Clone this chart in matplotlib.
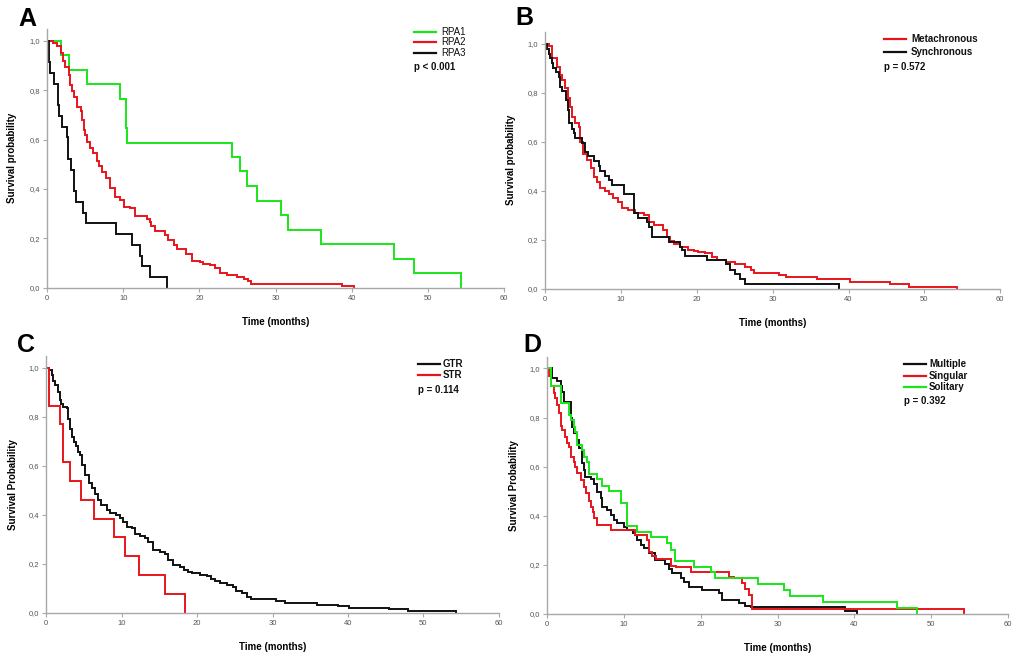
import matplotlib
matplotlib.use("Agg")
import matplotlib.pyplot as plt
from matplotlib.lines import Line2D

plt.rcParams['font.family'] = ['Liberation Sans', 'DejaVu Sans']

# ---------------- DATA ----------------
x_ticks = [0, 10, 20, 30, 40, 50, 60]
y_ticks = [0.0, 0.2, 0.4, 0.6, 0.8, 1.0]
y_tick_labels = ["0,0", "0,2", "0,4", "0,6", "0,8", "1,0"]

# Panel A: RPA classes (time of drop, survival after drop)
rpa1_t = [1.8, 2.9, 5.3, 9.6, 10.3, 10.5, 24.3, 25.3, 26.3, 27.5, 30.7, 31.6, 35.9, 45.5, 48.1, 54.3]
rpa1_s = [0.941, 0.882, 0.824, 0.765, 0.647, 0.588, 0.529, 0.471, 0.412, 0.353, 0.294, 0.235, 0.176, 0.118, 0.059, 0.0]

rpa2_t = [0.8, 1.3, 1.8, 2.1, 2.4, 2.9, 3.0, 3.3, 3.5, 3.9, 4.4, 4.6, 4.8, 5.0, 5.3, 5.7, 6.1, 6.5, 6.8, 7.2,
          7.8, 8.3, 8.9, 9.6, 10.1, 10.9, 11.6, 13.1, 13.5, 13.7, 14.2, 15.5, 15.9, 16.6, 17.0, 18.3, 19.0,
          20.1, 20.5, 21.4, 22.0, 22.7, 23.6, 24.9, 25.8, 26.4, 26.8, 38.7, 40.3]
rpa2_s = [0.99, 0.98, 0.95, 0.92, 0.895, 0.86, 0.82, 0.795, 0.773, 0.73, 0.715, 0.68, 0.638, 0.62, 0.59, 0.565, 0.544, 0.515, 0.495, 0.47,
          0.443, 0.402, 0.368, 0.355, 0.328, 0.322, 0.29, 0.28, 0.265, 0.25, 0.229, 0.215, 0.193, 0.173, 0.155, 0.135, 0.108,
          0.103, 0.097, 0.09, 0.078, 0.058, 0.05, 0.045, 0.035, 0.027, 0.0135, 0.006, 0.0]

rpa3_t = [0.2, 0.3, 0.4, 0.9, 1.4, 1.5, 1.6, 2.0, 2.6, 2.7, 2.8, 3.1, 3.5, 3.6, 3.8, 4.7, 5.1, 9.0, 11.1, 12.2, 12.5, 13.5, 15.7]
rpa3_s = [0.957, 0.913, 0.870, 0.826, 0.783, 0.739, 0.696, 0.652, 0.609, 0.565, 0.522, 0.478, 0.435, 0.391, 0.348, 0.304, 0.261,
          0.217, 0.174, 0.130, 0.087, 0.043, 0.0]

# Panel B: timing of metastasis
meta_t = [0.5, 0.9, 1.6, 2.0, 2.2, 2.7, 3.0, 3.3, 3.6, 3.9, 4.5, 4.65, 5.0, 5.5, 6.0, 6.4, 6.9, 7.3, 7.9, 8.4, 9.0, 9.6,
          10.1, 11.0, 11.9, 13.0, 13.7, 14.3, 15.6, 16.1, 16.5, 17.0, 17.8, 18.9, 19.6, 20.2, 21.1, 22.0, 22.7, 23.8,
          25.1, 26.4, 27.1, 27.5, 30.8, 31.7, 35.8, 40.2, 45.5, 48.0, 54.3]
meta_s = [0.99, 0.94, 0.906, 0.872, 0.85, 0.818, 0.777, 0.743, 0.702, 0.675, 0.66, 0.60, 0.55, 0.525, 0.491, 0.457, 0.437, 0.412,
          0.399, 0.385, 0.369, 0.352, 0.328, 0.32, 0.31, 0.30, 0.273, 0.26, 0.239, 0.212, 0.195, 0.181, 0.171, 0.16, 0.155,
          0.148, 0.144, 0.131, 0.117, 0.11, 0.10, 0.087, 0.078, 0.065, 0.056, 0.046, 0.038, 0.027, 0.018, 0.008, 0.0]

sync_t = [0.26, 0.5, 0.7, 0.9, 1.1, 1.4, 1.8, 2.0, 2.2, 2.8, 3.0, 3.1, 3.2, 3.6, 3.8, 4.0, 4.9, 5.3, 5.7, 6.4, 7.1, 7.3,
          7.9, 8.4, 8.8, 10.4, 11.7, 12.3, 13.4, 13.7, 14.1, 16.3, 17.8, 18.0, 18.5, 21.3, 23.8, 24.4, 25.1, 25.7, 26.4, 38.8]
sync_s = [0.98, 0.96, 0.94, 0.92, 0.90, 0.886, 0.865, 0.824, 0.808, 0.77, 0.73, 0.69, 0.675, 0.654, 0.635, 0.616, 0.596, 0.56,
          0.541, 0.521, 0.50, 0.482, 0.462, 0.443, 0.423, 0.385, 0.31, 0.287, 0.271, 0.25, 0.211, 0.192, 0.171, 0.158, 0.135,
          0.117, 0.099, 0.076, 0.058, 0.039, 0.018, 0.0]

# Panel C: extent of resection
gtr_t = [0.4, 0.7, 0.9, 1.15, 1.6, 1.8, 2.0, 2.25, 2.7, 2.9, 3.1, 3.4, 3.7, 3.9, 4.2, 4.5, 4.7, 5.1, 5.6, 6.0, 6.45,
         6.9, 7.3, 8.0, 8.4, 9.3, 9.8, 10.2, 10.7, 11.3, 11.8, 12.4, 13.1, 13.5, 14.2, 15.1, 15.7, 16.2, 16.8, 17.7,
         18.2, 18.8, 19.3, 20.4, 21.3, 21.9, 22.4, 23.0, 23.9, 24.8, 25.2, 25.9, 26.6, 27.2, 30.5, 31.7, 35.9, 38.7,
         40.1, 45.4, 48.0, 54.3]
gtr_s = [0.99, 0.97, 0.945, 0.929, 0.902, 0.87, 0.852, 0.841, 0.834, 0.793, 0.75, 0.719, 0.698, 0.68, 0.658, 0.645, 0.602,
         0.562, 0.531, 0.508, 0.484, 0.46, 0.44, 0.42, 0.406, 0.398, 0.386, 0.373, 0.352, 0.345, 0.322, 0.315, 0.304, 0.29,
         0.257, 0.25, 0.24, 0.216, 0.196, 0.188, 0.175, 0.167, 0.162, 0.155, 0.149, 0.14, 0.132, 0.121, 0.113, 0.105, 0.091,
         0.08, 0.067, 0.056, 0.047, 0.039, 0.033, 0.027, 0.021, 0.015, 0.008, 0.0]

str_t = [0.3, 0.4, 1.8, 2.2, 2.25, 3.2, 4.6, 6.3, 9.0, 10.4, 12.3, 15.7, 18.4]
str_s = [0.923, 0.846, 0.769, 0.692, 0.615, 0.538, 0.462, 0.385, 0.308, 0.231, 0.154, 0.077, 0.0]

# Panel D: number of metastases
mult_t = [0.7, 1.3, 1.8, 2.0, 2.2, 3.1, 3.3, 3.5, 3.9, 4.2, 4.6, 4.8, 5.0, 5.7, 6.1, 6.5, 7.0, 7.2, 7.8, 8.3, 8.7, 9.1,
          10.0, 10.4, 11.2, 11.5, 11.7, 12.2, 12.6, 13.3, 14.1, 15.4, 15.9, 16.3, 17.4, 17.8, 18.5, 20.2, 22.4, 22.8,
          25.0, 25.8, 26.6, 38.8, 40.3]
mult_s = [0.96, 0.95, 0.929, 0.906, 0.865, 0.797, 0.763, 0.736, 0.71, 0.675, 0.614, 0.586, 0.559, 0.548, 0.53, 0.498, 0.471,
          0.437, 0.423, 0.403, 0.382, 0.369, 0.355, 0.341, 0.331, 0.321, 0.30, 0.28, 0.267, 0.246, 0.219, 0.203, 0.184, 0.165,
          0.144, 0.128, 0.11, 0.097, 0.083, 0.054, 0.042, 0.032, 0.026, 0.011, 0.0]

sing_t = [0.26, 0.6, 0.9, 1.1, 1.3, 1.6, 1.8, 2.0, 2.4, 2.6, 2.9, 3.2, 3.5, 3.7, 3.9, 4.5, 4.8, 5.1, 5.5, 5.7, 6.0, 6.2,
          6.5, 8.4, 11.5, 13.0, 13.3, 13.7, 14.2, 16.1, 16.8, 18.7, 23.7, 24.3, 25.4, 25.8, 26.3, 26.7, 54.3]
sing_s = [0.97, 0.927, 0.90, 0.88, 0.852, 0.82, 0.766, 0.75, 0.72, 0.698, 0.68, 0.641, 0.62, 0.60, 0.575, 0.546, 0.518, 0.491,
          0.461, 0.437, 0.416, 0.389, 0.362, 0.341, 0.322, 0.299, 0.25, 0.237, 0.222, 0.195, 0.19, 0.17, 0.151, 0.145, 0.124,
          0.10, 0.076, 0.021, 0.0]

soli_t = [0.5, 1.8, 2.9, 3.1, 3.5, 3.7, 3.9, 4.6, 4.8, 5.2, 5.5, 6.5, 7.2, 8.1, 9.6, 10.4, 11.7, 13.5, 15.6, 16.1, 16.7,
          19.1, 21.4, 21.9, 27.5, 30.8, 31.6, 35.9, 45.5, 48.1]
soli_s = [0.927, 0.861, 0.81, 0.79, 0.763, 0.74, 0.688, 0.668, 0.641, 0.62, 0.57, 0.548, 0.521, 0.50, 0.453, 0.359, 0.335,
          0.312, 0.287, 0.26, 0.214, 0.192, 0.171, 0.144, 0.121, 0.095, 0.073, 0.049, 0.024, 0.0]

# ---------------- STYLE ----------------
GREEN = '#19e619'
RED = '#e8141c'
BLACK = '#111111'
W, H = 1024, 660

fig = plt.figure(figsize=(10.24, 6.6), dpi=100)
fig.patch.set_facecolor('white')


def px_rect(x0, x1, ytop, ybot):
    return [x0 / W, 1 - ybot / H, (x1 - x0) / W, (ybot - ytop) / H]


def make_axes(rect, ylabel, ypad_px, xpad_px):
    ax = fig.add_axes(rect)
    ax.set_xlim(0, 60)
    ax.set_ylim(0, 1.048)
    for side in ('top', 'right'):
        ax.spines[side].set_visible(False)
    for side in ('left', 'bottom'):
        ax.spines[side].set_color('#a8a8a8')
        ax.spines[side].set_linewidth(1.0)
    ax.set_xticks(x_ticks)
    ax.set_yticks(y_ticks)
    ax.set_yticklabels(y_tick_labels)
    ax.tick_params(axis='both', colors='#a8a8a8', labelcolor='#555555', labelsize=5.5,
                   length=3, width=0.8, direction='out', pad=2)
    ax.set_xlabel('Time (months)', fontsize=7, fontweight='bold')
    ax.set_ylabel(ylabel, fontsize=7, fontweight='bold')
    wpx = rect[2] * W
    hpx = rect[3] * H
    ax.yaxis.set_label_coords(-ypad_px / wpx, 0.5)
    ax.xaxis.set_label_coords(0.5, -xpad_px / hpx)
    return ax


def km(ax, t, s, color):
    ax.step([0.0] + list(t), [1.0] + list(s), where='post', color=color, lw=1.4, solid_joinstyle='miter')


def legend(x_line, x_text, ys, labels, colors, py, ptext, bold):
    for y, lab, c in zip(ys, labels, colors):
        fig.add_artist(Line2D([x_line / W, (x_line + 22) / W], [1 - y / H, 1 - y / H], color=c, lw=1.6))
        fig.text(x_text / W, 1 - y / H, lab, fontsize=7, fontweight='bold' if bold else 'normal',
                 ha='left', va='center', color='#111111')
    fig.text(x_line / W, 1 - py / H, ptext, fontsize=7, fontweight='bold', ha='left', va='center', color='#111111')


# Panel A
axA = make_axes(px_rect(47, 504.3, 29, 287.7), 'Survival probability', 30, 29)
km(axA, rpa1_t, rpa1_s, GREEN)
km(axA, rpa2_t, rpa2_s, RED)
km(axA, rpa3_t, rpa3_s, BLACK)
legend(414, 441, [31.7, 41.7, 53.0], ['RPA1', 'RPA2', 'RPA3'], [GREEN, RED, BLACK], 66.7, 'p < 0.001', False)

# Panel B
axB = make_axes(px_rect(545, 1000.3, 32, 288.7), 'Survival probability', 29, 29)
km(axB, meta_t, meta_s, RED)
km(axB, sync_t, sync_s, BLACK)
legend(884, 911, [39.3, 51.7], ['Metachronous', 'Synchronous'], [RED, BLACK], 66.7, 'p = 0.572', True)

# Panel C
axC = make_axes(px_rect(46.3, 498.7, 356, 613), 'Survival Probability', 28, 29)
km(axC, gtr_t, gtr_s, BLACK)
km(axC, str_t, str_s, RED)
legend(418, 443, [363.7, 375.0], ['GTR', 'STR'], [BLACK, RED], 389.7, 'p = 0.114', True)

# Panel D
axD = make_axes(px_rect(546.7, 1008.3, 356.7, 613.7), 'Survival Probability', 28, 29)
km(axD, mult_t, mult_s, BLACK)
km(axD, sing_t, sing_s, RED)
km(axD, soli_t, soli_s, GREEN)
legend(904, 929, [364.0, 375.7, 387.3], ['Multiple', 'Singular', 'Solitary'], [BLACK, RED, GREEN], 401, 'p = 0.392', True)

# Panel letters
for lab, (x, y) in zip(['A', 'B', 'C', 'D'], [(27, 19), (524, 18), (26, 345), (532, 345)]):
    fig.text(x / W, 1 - y / H, lab, fontsize=18, fontweight='bold', ha='center', va='center')

fig.savefig('out.png', dpi=100, facecolor='white')
